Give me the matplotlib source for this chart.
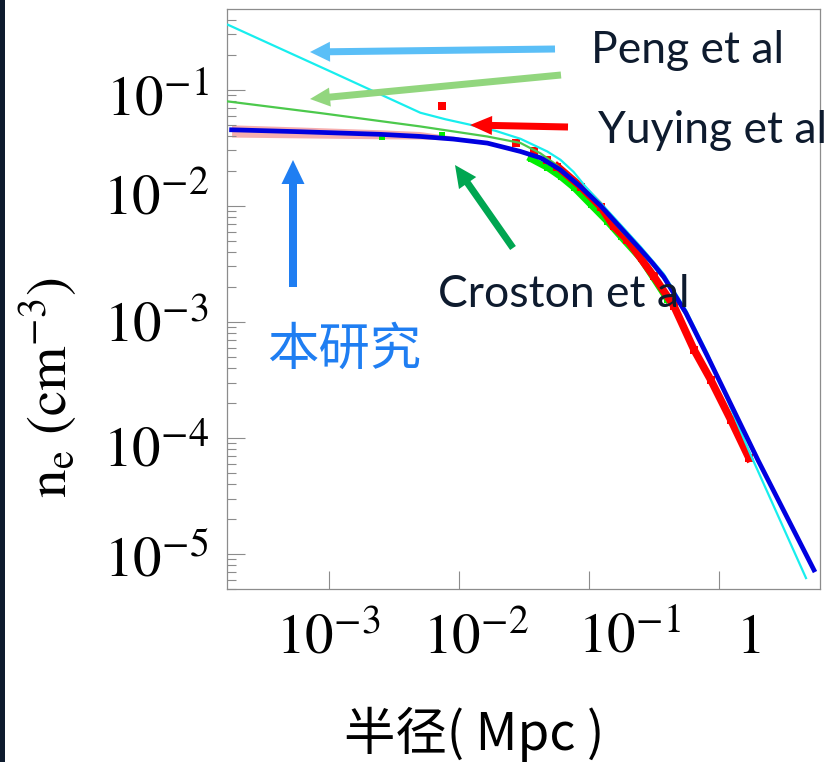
import matplotlib
matplotlib.use('Agg')
import matplotlib.pyplot as plt
from matplotlib.patches import FancyArrowPatch, Rectangle
from matplotlib.transforms import ScaledTranslation

plt.rcParams['mathtext.fontset'] = 'stix'

W, H = 838, 762

# 本研究 : fitted density profile (blue) and its error band (pink)
this_r = [1.8e-4, 6.0e-4, 2.5e-3, 5.07e-3, 9.1e-3, 0.0166, 0.0298, 0.0425, 0.0605,
          0.0863, 0.123, 0.1754, 0.25, 0.31, 0.3755, 0.5546, 0.8186, 1.985, 5.35]
this_n = [0.0452, 0.0435, 0.0413, 0.0396, 0.0376, 0.0347, 0.0294, 0.0259, 0.0204,
          0.01459, 0.0100, 0.00646, 0.00418, 0.00318, 0.00244, 0.00120, 4.99e-4, 6.46e-5, 7.28e-6]
band_r = [1.8e-4, 6.0e-4, 2.5e-3, 5.0e-3, 0.01]
band_lo = [0.0391, 0.0385, 0.0378, 0.0376, 0.0368]
band_hi = [0.0499, 0.0478, 0.0452, 0.0437, 0.0392]

# Peng et al : two model curves (cyan, green)
peng_r = [1.69e-4, 1.09e-3, 5.07e-3, 7.9e-3, 0.0123, 0.01914, 0.0298, 0.0479, 0.0605,
          0.0762, 0.0943, 0.123, 0.1754, 0.25, 0.3755, 0.5546, 0.8186, 1.753, 4.65]
peng_n = [0.363, 0.140, 0.0634, 0.0557, 0.0499, 0.0443, 0.0378, 0.0294, 0.0249,
          0.0196, 0.0146, 0.0106, 0.00686, 0.00443, 0.00259, 0.00127, 5.3e-4, 7.1e-5, 6.2e-6]
peng2_r = [1.69e-4, 8.63e-4, 5.07e-3, 0.0165, 0.0298, 0.0425, 0.0535, 0.0723, 0.123,
           0.1754, 0.25, 0.3755, 0.5546, 0.8186, 1.985]
peng2_n = [0.0793, 0.0630, 0.0483, 0.0396, 0.0348, 0.0283, 0.0235, 0.0178, 0.0102,
           0.00621, 0.00409, 0.00235, 0.00115, 4.9e-4, 6.34e-5]

# Yuying et al (red squares)
yuying_r = [7.45e-3, 0.0273, 0.0378, 0.0479, 0.0572, 0.0863, 0.123, 0.1556,
            0.197, 0.316, 0.451, 0.642, 0.863, 1.23, 1.70]
yuying_n = [0.0718, 0.0348, 0.0294, 0.0249, 0.0218, 0.01466, 0.00986, 0.00664,
            0.00509, 0.00246, 1.36e-3, 5.74e-4, 3.16e-4, 1.43e-4, 6.68e-5]

# Croston et al (green squares)
croston_r = [2.59e-3, 7.45e-3, 0.0356, 0.0479, 0.0605, 0.0767, 0.1031, 0.1386,
             0.1754, 0.25, 0.401]
croston_n = [0.0394, 0.041, 0.0254, 0.0213, 0.0178, 0.0143, 0.0102, 0.00728,
             0.00541, 0.00349, 0.00155]

xticks = [1e-3, 1e-2, 1e-1, 1]
xticklabels = ['$10^{-3}$', '$10^{-2}$', '$10^{-1}$', '$1$']
yticks = [1e-5, 1e-4, 1e-3, 1e-2, 1e-1]
yticklabels = ['$10^{-5}$', '$10^{-4}$', '$10^{-3}$', '$10^{-2}$', '$10^{-1}$']

navy = '#0e1b2e'

fig = plt.figure(figsize=(W / 100, H / 100), dpi=100)
ax = fig.add_axes([227 / W, 173 / H, 593 / W, 580 / H])

ax.fill_between(band_r, band_lo, band_hi, color='#f49a9a', alpha=0.8, lw=0, zorder=1)
ax.plot(croston_r[2:], croston_n[2:], color='#00ee00', lw=4.5, zorder=2)
ax.plot(croston_r, croston_n, 's', color='#00ee00', ms=5, mew=0, zorder=2)
ax.plot(yuying_r[4:], yuying_n[4:], color='#ff0000', lw=5.5, zorder=2.5)
ax.plot(yuying_r, yuying_n, 's', color='#ff0000', ms=5.5, mew=0, zorder=2.5)
ax.plot(peng_r, peng_n, color='#18eeee', lw=1.6, zorder=3)
ax.plot(peng2_r, peng2_n, color='#4cc94c', lw=1.6, zorder=3)
ax.plot(this_r, this_n, color='#0000e0', lw=3.4, zorder=4)

ax.set_xscale('log')
ax.set_yscale('log')
ax.set_xlim(10 ** -3.78, 10 ** 0.775)
ax.set_ylim(10 ** -5.302, 10 ** -0.304)

for s in ax.spines.values():
    s.set_color('#8c8c8c')
    s.set_linewidth(0.9)
ax.tick_params(which='both', direction='in', color='#8c8c8c', width=0.8,
               top=False, right=False)
ax.tick_params(which='major', length=13)
ax.tick_params(which='minor', length=6.5)
ax.tick_params(axis='x', which='major', labelsize=41, pad=15)
ax.tick_params(axis='y', which='major', labelsize=41, pad=13)

ax.set_xticks(xticks)
ax.set_xticklabels(xticklabels)
ax.set_yticks(yticks)
ax.set_yticklabels(yticklabels)

# the tick labels in the reference sit a little off their ticks
x_shift = [0, 17, 41, 29]
for lab, dx in zip(ax.get_xticklabels(), x_shift):
    lab.set_transform(lab.get_transform() + ScaledTranslation(dx / 100, 0, fig.dpi_scale_trans))
y_shift = [6, 12, 3.5, -7.5, 11]
for lab, dy in zip(ax.get_yticklabels(), y_shift):
    lab.set_verticalalignment('center')
    lab.set_transform(lab.get_transform() + ScaledTranslation(0, -dy / 100, fig.dpi_scale_trans))


def fx(x):
    return x / W


def fy(y):
    return 1 - y / H


fig.text(fx(474), fy(750), '半径( Mpc )', ha='center', va='baseline', fontsize=37,
         family=['Noto Sans CJK SC', 'DejaVu Sans'], color='black')
fig.text(fx(48), fy(388), r'$\mathrm{n_e}\ (\mathrm{cm}^{-3})$', rotation=90,
         ha='center', va='center', fontsize=41, color='black')

lab_font = ['Lato', 'DejaVu Sans']
fig.text(fx(591), fy(63), 'Peng et al', fontsize=32, family=lab_font, color=navy, va='baseline')
fig.text(fx(598), fy(143), 'Yuying et al', fontsize=32, family=lab_font, color=navy, va='baseline')
fig.text(fx(438), fy(307), 'Croston et al', fontsize=32, family=lab_font, color=navy, va='baseline')
fig.text(fx(267), fy(365), '本研究', fontsize=37, family=['Noto Sans CJK SC', 'DejaVu Sans'],
         color='#1f7ef2', va='baseline')


def arrow(x0, y0, x1, y1, color, tail, head_w, head_l):
    # pixel coords (from top-left) -> inches; widths in pixels -> points
    p = FancyArrowPatch((x0 / 100, (H - y0) / 100), (x1 / 100, (H - y1) / 100),
                        transform=fig.dpi_scale_trans,
                        arrowstyle='simple,head_length=%g,head_width=%g,tail_width=%g'
                        % (head_l * 0.72, head_w * 0.72, tail * 0.72),
                        mutation_scale=1, color=color, lw=0, shrinkA=0, shrinkB=0)
    fig.add_artist(p)


arrow(555, 49, 310, 52, '#5bbff7', 7, 20, 20)
arrow(561, 75, 310, 99, '#92d67e', 7, 19, 20)
arrow(568, 127, 470, 125, '#ff0000', 7, 19, 22)
arrow(513, 248, 455, 165, '#00a651', 7, 21, 22)
arrow(293, 287, 293, 160, '#1f7ef2', 8, 23, 24)

fig.add_artist(Rectangle((0, 0), 5 / W, 1, transform=fig.transFigure, color=navy, lw=0))

fig.savefig('out.png', dpi=100)
